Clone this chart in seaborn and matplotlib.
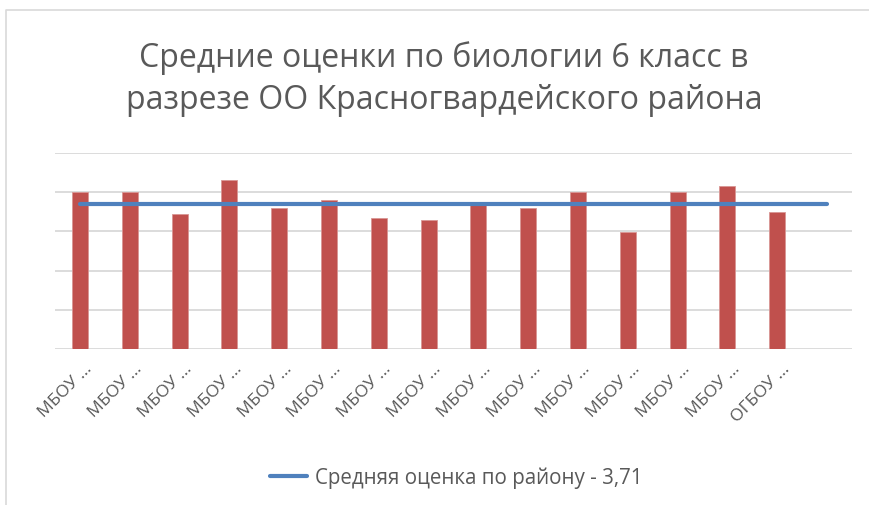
import matplotlib
matplotlib.use("Agg")
import matplotlib.pyplot as plt
import matplotlib.transforms as mtransforms
import numpy as np
import pandas as pd
import seaborn as sns

# data
schools = ["МБОУ …"] * 14 + ["ОГБОУ …", ""]
scores = [4.0, 4.0, 3.44, 4.31, 3.59, 3.80, 3.33, 3.28, 3.74, 3.59,
          4.0, 2.98, 4.0, 4.15, 3.49, np.nan]
district_avg = 3.71
legend_label = "Средняя оценка по району - 3,71"
title = "Средние оценки по биологии 6 класс в\nразрезе ОО Красногвардейского района"

df = pd.DataFrame({"school": range(len(schools)), "score": scores})
df["avg"] = district_avg

sns.set_theme(style="white")
plt.rcParams['font.family'] = ['Open Sans', 'DejaVu Sans']

fig = plt.figure(figsize=(8.69, 5.06), dpi=100)
ax = fig.add_axes([55 / 869, 1 - 350 / 506, (852 - 55) / 869, (350 - 154) / 506])

sns.barplot(data=df, x="school", y="score", color="#C0504D", saturation=1,
            width=0.32, edgecolor="#D99694", linewidth=0.6, ax=ax, zorder=2)
sns.lineplot(data=df, x="school", y="avg", color="#4F81BD", linewidth=3,
             ax=ax, zorder=3, label=legend_label)

ax.set_ylim(0, 5)
ax.set_xlim(-0.5, len(schools) - 0.5)
ax.set_yticks(range(6))
ax.set_yticklabels([])
ax.yaxis.grid(True, color="#D9D9D9", linewidth=1.3, zorder=0)
ax.set_axisbelow(True)
for s in ax.spines.values():
    s.set_visible(False)
ax.set_xlabel("")
ax.set_ylabel("")
ax.tick_params(axis="x", length=0, pad=12)
ax.set_xticks(range(len(schools)))
ax.set_xticklabels(schools, rotation=45, ha="right", va="center",
                   rotation_mode="anchor", fontsize=12.5, color="#595959")
shift = mtransforms.ScaledTranslation(10 / 100, 0, fig.dpi_scale_trans)
for lbl in ax.get_xticklabels():
    lbl.set_transform(lbl.get_transform() + shift)

fig.text(444 / 869, 1 - 79 / 506, title, ha="center", va="center", fontsize=23,
         color="#595959", linespacing=1.38)

leg = ax.legend(loc="center", bbox_to_anchor=(456 / 869, 1 - 478 / 506),
                bbox_transform=fig.transFigure, frameon=False,
                fontsize=14.8, handlelength=1.8, handletextpad=0.4)
for t in leg.get_texts():
    t.set_color("#595959")

# chart area border
fig.add_artist(plt.Line2D([6 / 869, 6 / 869, 1], [0, 1 - 11 / 506, 1 - 11 / 506],
                          color="#D9D9D9", linewidth=1.2, transform=fig.transFigure))

fig.savefig("out.png", dpi=100)
